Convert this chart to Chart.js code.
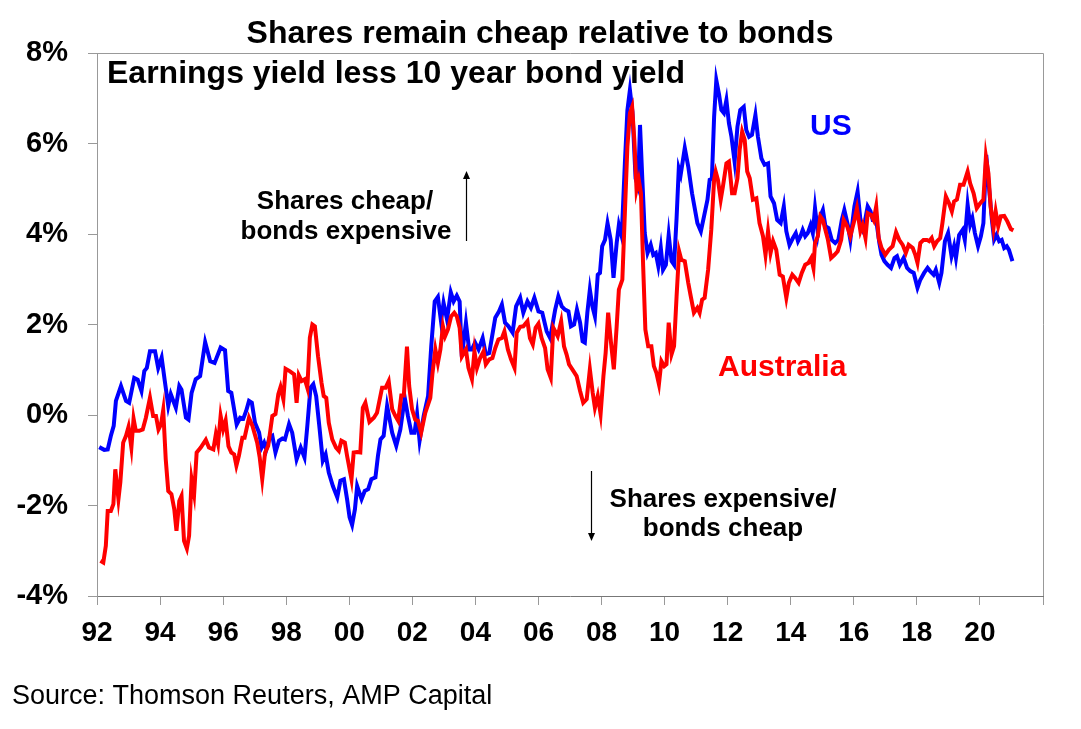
<!DOCTYPE html>
<html>
<head>
<meta charset="utf-8">
<title>Shares remain cheap relative to bonds</title>
<script src="https://cdn.jsdelivr.net/npm/chart.js@4.4.1/dist/chart.umd.min.js"></script>
<style>
  html, body { margin: 0; padding: 0; background: #fff; }
  canvas { display: block; }
</style>
</head>
<body>
<canvas id="yieldChart" width="1081" height="729"></canvas>
<script>
// Earnings yield less 10 year bond yield, %
const usYears = [
  1992.07, 1992.23, 1992.34, 1992.44, 1992.53, 1992.60, 1992.76, 1992.92, 1993.02, 1993.18,
  1993.29, 1993.41, 1993.50, 1993.58, 1993.68, 1993.84, 1993.94, 1994.05, 1994.15, 1994.26,
  1994.34, 1994.50, 1994.61, 1994.68, 1994.82, 1994.90, 1995.00, 1995.13, 1995.27, 1995.43,
  1995.59, 1995.73, 1995.92, 1996.06, 1996.16, 1996.26, 1996.43, 1996.54, 1996.64, 1996.73,
  1996.82, 1996.91, 1997.01, 1997.14, 1997.22, 1997.30, 1997.37, 1997.47, 1997.56, 1997.66,
  1997.77, 1997.88, 1997.96, 1998.09, 1998.19, 1998.33, 1998.46, 1998.58, 1998.67, 1998.77,
  1998.86, 1998.95, 1999.06, 1999.16, 1999.25, 1999.35, 1999.48, 1999.62, 1999.72, 1999.83,
  1999.93, 2000.01, 2000.09, 2000.18, 2000.25, 2000.39, 2000.49, 2000.60, 2000.70, 2000.83,
  2000.91, 2000.99, 2001.09, 2001.20, 2001.36, 2001.49, 2001.62, 2001.76, 2001.86, 2001.97,
  2002.07, 2002.15, 2002.23, 2002.36, 2002.50, 2002.60, 2002.71, 2002.81, 2002.91, 2002.99,
  2003.10, 2003.22, 2003.31, 2003.41, 2003.50, 2003.57, 2003.70, 2003.80, 2003.89, 2003.99,
  2004.10, 2004.23, 2004.33, 2004.44, 2004.52, 2004.63, 2004.75, 2004.84, 2004.94, 2005.05,
  2005.18, 2005.29, 2005.42, 2005.52, 2005.65, 2005.76, 2005.87, 2006.00, 2006.12, 2006.26,
  2006.37, 2006.53, 2006.63, 2006.74, 2006.84, 2006.95, 2007.03, 2007.13, 2007.22, 2007.32,
  2007.40, 2007.47, 2007.55, 2007.63, 2007.71, 2007.79, 2007.88, 2007.95, 2008.02, 2008.11,
  2008.19, 2008.29, 2008.38, 2008.48, 2008.55, 2008.64, 2008.74, 2008.82, 2008.90, 2008.98,
  2009.08, 2009.16, 2009.22, 2009.29, 2009.37, 2009.46, 2009.56, 2009.64, 2009.72, 2009.80,
  2009.88, 2009.95, 2010.04, 2010.13, 2010.22, 2010.30, 2010.38, 2010.45, 2010.51, 2010.64,
  2010.75, 2010.87, 2011.04, 2011.15, 2011.25, 2011.36, 2011.43, 2011.50, 2011.57, 2011.64,
  2011.73, 2011.80, 2011.88, 2011.96, 2012.04, 2012.12, 2012.22, 2012.31, 2012.40, 2012.51,
  2012.59, 2012.68, 2012.77, 2012.88, 2012.96, 2013.07, 2013.17, 2013.28, 2013.36, 2013.47,
  2013.57, 2013.68, 2013.78, 2013.86, 2013.96, 2014.07, 2014.16, 2014.23, 2014.31, 2014.38,
  2014.46, 2014.54, 2014.63, 2014.70, 2014.77, 2014.86, 2014.94, 2015.02, 2015.10, 2015.20,
  2015.30, 2015.41, 2015.51, 2015.62, 2015.70, 2015.81, 2015.89, 2016.02, 2016.12, 2016.21,
  2016.28, 2016.36, 2016.44, 2016.53, 2016.60, 2016.71, 2016.81, 2016.88, 2016.97, 2017.07,
  2017.18, 2017.29, 2017.37, 2017.46, 2017.58, 2017.69, 2017.79, 2017.90, 2018.02, 2018.11,
  2018.23, 2018.34, 2018.42, 2018.53, 2018.60, 2018.71, 2018.78, 2018.89, 2018.99, 2019.10,
  2019.18, 2019.24, 2019.34, 2019.45, 2019.52, 2019.61, 2019.69, 2019.76, 2019.84, 2019.94,
  2020.03, 2020.11, 2020.20, 2020.29, 2020.38, 2020.45, 2020.53, 2020.61, 2020.69, 2020.77,
  2020.85, 2020.92, 2021.03
];
const usGap = [
  -0.71, -0.77, -0.76, -0.46, -0.24, 0.31, 0.64, 0.31, 0.27, 0.82,
  0.78, 0.53, 0.97, 1.04, 1.41, 1.41, 1.04, 1.27, 0.75, 0.20,
  0.46, 0.16, 0.64, 0.56, -0.06, -0.10, 0.49, 0.79, 0.86, 1.61,
  1.19, 1.15, 1.49, 1.43, 0.53, 0.49, -0.21, -0.06, -0.08, 0.09,
  0.31, 0.27, -0.17, -0.39, -0.72, -0.61, -0.76, -0.50, -0.46, -0.83,
  -0.57, -0.52, -0.54, -0.20, -0.39, -0.98, -0.72, -0.94, -0.24, 0.60,
  0.68, 0.42, -0.31, -1.01, -0.87, -1.27, -1.57, -1.82, -1.45, -1.42,
  -1.86, -2.26, -2.43, -2.08, -1.57, -1.86, -1.68, -1.64, -1.42, -1.38,
  -0.90, -0.54, -0.46, 0.20, -0.39, -0.68, -0.32, 0.38, -0.02, -0.39,
  -0.39, 0.02, -0.57, -0.02, 0.42, 1.52, 2.51, 2.61, 2.07, 2.48,
  2.11, 2.71, 2.51, 2.64, 2.51, 1.29, 2.04, 1.45, 1.45, 1.60,
  1.45, 1.70, 1.34, 1.37, 1.70, 2.15, 2.29, 2.44, 2.04, 1.96,
  1.82, 2.40, 2.59, 2.26, 2.51, 2.37, 2.59, 2.29, 2.26, 1.85,
  1.70, 2.33, 2.62, 2.40, 2.33, 2.29, 1.96, 2.00, 2.33, 2.04,
  1.63, 1.60, 2.26, 2.77, 2.40, 2.18, 3.10, 3.14, 3.73, 3.87,
  4.24, 3.87, 3.03, 3.80, 4.20, 3.95, 5.56, 6.73, 7.18, 6.70,
  5.23, 5.05, 6.41, 5.27, 4.02, 3.58, 3.76, 3.54, 3.58, 3.29,
  3.69, 3.21, 3.32, 3.98, 3.40, 3.32, 4.35, 5.45, 5.31, 5.90,
  5.49, 4.90, 4.24, 4.06, 4.39, 4.76, 5.20, 5.23, 6.59, 7.40,
  7.07, 6.74, 6.67, 6.96, 6.45, 6.15, 5.60, 6.37, 6.74, 6.81,
  6.30, 6.15, 6.19, 6.63, 6.15, 5.67, 5.53, 5.56, 4.83, 4.68,
  4.31, 4.24, 4.61, 4.06, 3.76, 3.91, 4.02, 3.84, 3.95, 4.09,
  3.95, 4.02, 4.20, 4.02, 4.57, 4.02, 4.39, 4.53, 4.17, 4.13,
  3.87, 3.80, 3.87, 4.31, 4.53, 4.20, 3.87, 4.61, 4.94, 4.31,
  4.13, 4.31, 4.61, 4.50, 4.31, 4.31, 3.80, 3.54, 3.40, 3.32,
  3.25, 3.47, 3.51, 3.32, 3.47, 3.25, 3.18, 3.14, 2.81, 2.99,
  3.14, 3.25, 3.18, 3.10, 3.21, 2.92, 3.14, 3.84, 4.02, 3.51,
  3.73, 3.47, 3.98, 4.09, 3.87, 4.65, 4.20, 4.35, 4.02, 3.73,
  3.95, 4.24, 5.75, 5.01, 4.31, 3.87, 3.98, 3.84, 3.87, 3.69,
  3.73, 3.65, 3.40
];

const ausYears = [
  1992.11, 1992.20, 1992.28, 1992.34, 1992.44, 1992.52, 1992.58, 1992.68, 1992.74, 1992.83,
  1992.92, 1993.00, 1993.09, 1993.16, 1993.23, 1993.34, 1993.45, 1993.55, 1993.68, 1993.78,
  1993.87, 1993.95, 1994.03, 1994.10, 1994.18, 1994.26, 1994.36, 1994.45, 1994.52, 1994.61,
  1994.68, 1994.76, 1994.85, 1994.92, 1995.00, 1995.08, 1995.16, 1995.29, 1995.45, 1995.55,
  1995.69, 1995.77, 1995.84, 1995.92, 1996.00, 1996.08, 1996.17, 1996.26, 1996.35, 1996.42,
  1996.50, 1996.61, 1996.68, 1996.82, 1996.93, 1997.08, 1997.16, 1997.24, 1997.33, 1997.43,
  1997.56, 1997.66, 1997.75, 1997.82, 1997.91, 1997.98, 1998.11, 1998.25, 1998.33, 1998.40,
  1998.49, 1998.59, 1998.67, 1998.75, 1998.83, 1998.91, 1999.01, 1999.12, 1999.19, 1999.27,
  1999.35, 1999.46, 1999.58, 1999.67, 1999.75, 1999.86, 1999.93, 2000.07, 2000.14, 2000.25,
  2000.35, 2000.43, 2000.51, 2000.64, 2000.78, 2000.88, 2001.04, 2001.15, 2001.25, 2001.36,
  2001.46, 2001.55, 2001.65, 2001.73, 2001.83, 2001.90, 2001.99, 2002.09, 2002.18, 2002.28,
  2002.41, 2002.57, 2002.64, 2002.73, 2002.81, 2002.89, 2002.97, 2003.04, 2003.13, 2003.23,
  2003.33, 2003.41, 2003.50, 2003.57, 2003.70, 2003.78, 2003.89, 2003.97, 2004.05, 2004.15,
  2004.26, 2004.33, 2004.44, 2004.54, 2004.63, 2004.73, 2004.84, 2004.92, 2005.03, 2005.13,
  2005.24, 2005.31, 2005.42, 2005.52, 2005.65, 2005.73, 2005.82, 2005.91, 2006.00, 2006.10,
  2006.21, 2006.29, 2006.39, 2006.47, 2006.61, 2006.72, 2006.81, 2006.89, 2006.97, 2007.11,
  2007.21, 2007.32, 2007.42, 2007.53, 2007.63, 2007.72, 2007.79, 2007.88, 2007.97, 2008.06,
  2008.13, 2008.21, 2008.30, 2008.39, 2008.48, 2008.55, 2008.66, 2008.74, 2008.82, 2008.90,
  2008.97, 2009.04, 2009.11, 2009.18, 2009.25, 2009.32, 2009.39, 2009.48, 2009.58, 2009.66,
  2009.74, 2009.82, 2009.90, 2009.99, 2010.06, 2010.13, 2010.22, 2010.30, 2010.38, 2010.46,
  2010.53, 2010.64, 2010.75, 2010.83, 2010.93, 2011.04, 2011.11, 2011.19, 2011.27, 2011.38,
  2011.48, 2011.57, 2011.62, 2011.69, 2011.78, 2011.85, 2011.96, 2012.04, 2012.14, 2012.22,
  2012.31, 2012.38, 2012.46, 2012.54, 2012.62, 2012.70, 2012.80, 2012.91, 2013.01, 2013.12,
  2013.20, 2013.28, 2013.36, 2013.44, 2013.54, 2013.65, 2013.75, 2013.86, 2013.94, 2014.05,
  2014.14, 2014.25, 2014.35, 2014.46, 2014.56, 2014.65, 2014.72, 2014.77, 2014.86, 2014.94,
  2015.02, 2015.10, 2015.18, 2015.28, 2015.39, 2015.49, 2015.60, 2015.68, 2015.79, 2015.89,
  2016.02, 2016.10, 2016.21, 2016.28, 2016.37, 2016.44, 2016.55, 2016.63, 2016.71, 2016.79,
  2016.88, 2017.00, 2017.11, 2017.23, 2017.34, 2017.44, 2017.55, 2017.65, 2017.74, 2017.87,
  2017.95, 2018.02, 2018.11, 2018.21, 2018.32, 2018.39, 2018.47, 2018.55, 2018.64, 2018.74,
  2018.81, 2018.92, 2019.02, 2019.11, 2019.18, 2019.27, 2019.37, 2019.48, 2019.61, 2019.69,
  2019.80, 2019.90, 2020.01, 2020.11, 2020.19, 2020.27, 2020.34, 2020.43, 2020.50, 2020.58,
  2020.66, 2020.77, 2020.87, 2020.98, 2021.06
];
const ausGap = [
  -3.22, -3.26, -2.89, -2.12, -2.12, -1.97, -1.20, -1.86, -1.49, -0.61,
  -0.46, -0.26, -0.72, -0.08, -0.35, -0.35, -0.32, -0.06, 0.38, -0.02,
  -0.02, -0.32, -0.21, 0.11, -0.98, -1.68, -1.75, -2.08, -2.56, -1.90,
  -1.79, -2.78, -2.95, -2.67, -1.42, -1.75, -0.83, -0.72, -0.55, -0.72,
  -0.76, -0.42, -0.64, -0.02, -0.32, -0.12, -0.69, -0.83, -0.87, -1.12,
  -0.90, -0.50, -0.50, -0.06, -0.24, -0.61, -0.94, -1.42, -0.83, -0.68,
  -0.02, 0.02, 0.46, 0.62, 0.35, 1.02, 0.97, 0.90, 0.27, 0.88,
  0.75, 0.79, 0.60, 1.71, 2.00, 1.96, 1.30, 0.71, 0.42, 0.38,
  -0.17, -0.54, -0.72, -0.79, -0.57, -0.61, -0.90, -1.42, -0.83, -0.82,
  -0.83, 0.16, 0.27, -0.15, -0.06, 0.05, 0.60, 0.60, 0.75, 0.13,
  -0.02, -0.13, 0.43, 0.43, 1.51, 0.64, 0.13, -0.10, -0.13, -0.39,
  0.05, 0.38, 0.93, 1.45, 1.15, 1.45, 1.96, 1.74, 1.89, 2.18,
  2.26, 2.18, 1.93, 1.29, 1.45, 1.04, 0.79, 1.41, 1.04, 1.26,
  1.41, 1.12, 1.23, 1.26, 1.48, 1.67, 1.70, 1.85, 1.45, 1.23,
  1.04, 1.82, 1.95, 1.96, 2.07, 1.70, 1.56, 1.93, 2.02, 1.70,
  1.48, 1.01, 0.82, 1.93, 1.74, 2.07, 1.52, 1.34, 1.12, 0.97,
  0.86, 0.53, 0.27, 0.35, 1.01, 0.49, 0.16, 0.42, 0.02, 0.86,
  1.37, 2.26, 1.60, 1.01, 1.96, 2.77, 2.99, 4.46, 5.93, 6.67,
  6.81, 6.08, 4.98, 5.20, 4.90, 3.29, 1.89, 1.52, 1.52, 1.08,
  0.93, 0.68, 1.19, 1.08, 1.12, 2.04, 1.34, 1.52, 2.62, 3.62,
  3.43, 3.40, 2.92, 2.62, 2.26, 2.37, 2.26, 2.55, 2.59, 3.21,
  4.09, 5.20, 5.38, 5.20, 4.76, 5.05, 5.56, 5.60, 4.90, 4.90,
  5.23, 5.86, 6.26, 6.08, 5.38, 5.23, 4.76, 4.79, 4.24, 3.95,
  3.54, 4.06, 3.58, 3.84, 3.65, 3.10, 3.06, 2.59, 2.92, 3.10,
  3.03, 2.92, 3.14, 3.32, 3.36, 3.47, 3.25, 3.80, 3.95, 4.39,
  4.31, 4.09, 3.87, 3.47, 3.54, 3.62, 3.87, 4.31, 4.17, 3.95,
  4.31, 4.57, 4.06, 4.20, 3.91, 4.46, 4.42, 4.31, 4.61, 3.91,
  3.69, 3.54, 3.65, 3.73, 4.04, 3.87, 3.76, 3.58, 3.76, 3.69,
  3.54, 3.36, 3.80, 3.87, 3.87, 3.84, 3.91, 3.73, 3.84, 3.91,
  4.24, 4.83, 4.68, 4.50, 4.72, 4.76, 5.09, 5.09, 5.38, 5.12,
  4.90, 4.57, 4.68, 4.76, 5.71, 5.34, 4.61, 4.13, 4.50, 4.17,
  4.39, 4.40, 4.28, 4.11, 4.08
];

const yearLabels = ['92', '94', '96', '98', '00', '02', '04', '06', '08', '10', '12', '14', '16', '18', '20', ''];
const pctLabels = ['-4%', '-2%', '0%', '2%', '4%', '6%', '8%'];

const FONT = '"Liberation Sans", Arial, sans-serif';
Chart.defaults.font.family = FONT;
Chart.defaults.color = '#000';

function toPoints(xs, ys) {
    return xs.map((x, i) => ({ x: x, y: ys[i] }));
}

function arrow(ctx, x, yFrom, yTo) {
    const dir = yTo < yFrom ? -1 : 1;
    ctx.beginPath();
    ctx.moveTo(x, yFrom);
    ctx.lineTo(x, yTo - dir * 6);
    ctx.stroke();
    ctx.beginPath();
    ctx.moveTo(x, yTo);
    ctx.lineTo(x - 3.5, yTo - dir * 8);
    ctx.lineTo(x + 3.5, yTo - dir * 8);
    ctx.closePath();
    ctx.fill();
}

// title, labels, arrows, frame and source note
const decorations = {
    id: 'decorations',
    afterDraw(chart) {
        const { ctx, chartArea: a } = chart;
        ctx.save();

        ctx.strokeStyle = '#999';
        ctx.lineWidth = 1;
        ctx.beginPath();
        ctx.moveTo(a.left, a.top + 0.5);
        ctx.lineTo(a.right + 0.5, a.top + 0.5);
        ctx.lineTo(a.right + 0.5, a.bottom);
        ctx.stroke();

        ctx.textBaseline = 'alphabetic';
        ctx.fillStyle = '#000';
        ctx.textAlign = 'center';
        ctx.font = 'bold 32px ' + FONT;
        ctx.fillText('Shares remain cheap relative to bonds', 540, 43);

        ctx.textAlign = 'left';
        ctx.fillText('Earnings yield less 10 year bond yield', 107, 83);

        ctx.fillStyle = '#0000FF';
        ctx.font = 'bold 30px ' + FONT;
        ctx.fillText('US', 810, 135);
        ctx.fillStyle = '#FF0000';
        ctx.fillText('Australia', 718, 376);

        ctx.fillStyle = '#000';
        ctx.textAlign = 'center';
        ctx.font = 'bold 26px ' + FONT;
        ctx.fillText('Shares cheap/', 345, 209);
        ctx.fillText('bonds expensive', 346, 239);
        ctx.fillText('Shares expensive/', 723, 507);
        ctx.fillText('bonds cheap', 723, 536);

        ctx.strokeStyle = '#000';
        ctx.lineWidth = 1.2;
        arrow(ctx, 466.5, 241, 171);
        arrow(ctx, 591.5, 471, 541);

        ctx.textAlign = 'left';
        ctx.font = '27px ' + FONT;
        ctx.fillText('Source: Thomson Reuters, AMP Capital', 12, 704);

        ctx.restore();
    }
};

const ctx = document.getElementById('yieldChart').getContext('2d');
const chart = new Chart(ctx, {
    type: 'line',
    data: {
        datasets: [{
            label: 'US',
            data: toPoints(usYears, usGap),
            borderColor: '#0000FF',
            borderWidth: 4,
            pointRadius: 0,
            tension: 0,
            order: 2,
        }, {
            label: 'Australia',
            data: toPoints(ausYears, ausGap),
            borderColor: '#FF0000',
            borderWidth: 4,
            pointRadius: 0,
            tension: 0,
            order: 1,
        }]
    },
    options: {
        responsive: false,
        animation: false,
        layout: { padding: { top: 53, right: 38, bottom: 73, left: 0 } },
        plugins: {
            legend: { display: false },
            tooltip: { enabled: false }
        },
        scales: {
            x: {
                type: 'linear',
                min: 1992,
                max: 2022,
                afterFit: (scale) => { scale.height = 60; },
                ticks: {
                    stepSize: 2,
                    padding: 11,
                    autoSkip: false,
                    maxRotation: 0,
                    font: { size: 28, weight: 'bold' },
                    callback: (value, index) => yearLabels[index]
                },
                grid: { drawOnChartArea: false, tickLength: 9, color: '#999' },
                border: { color: '#777' }
            },
            y: {
                min: -4,
                max: 8,
                afterFit: (scale) => { scale.width = 97; },
                ticks: {
                    stepSize: 2,
                    padding: 20,
                    font: { size: 29, weight: 'bold' },
                    callback: (value, index) => pctLabels[index]
                },
                grid: { drawOnChartArea: false, tickLength: 9, color: '#999' },
                border: { color: '#999' }
            }
        }
    },
    plugins: [decorations]
});
</script>
</body>
</html>
